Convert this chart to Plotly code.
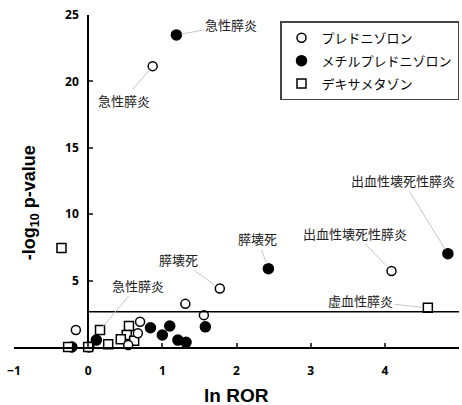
import plotly.graph_objects as go

# ---- data ----
pred_x = [0.87, 4.09, 1.775, 1.31, 1.56, -0.166, 0.70, 0.67, 0.54]
pred_y = [21.15, 5.72, 4.40, 3.25, 2.40, 1.28, 1.90, 1.03, 0.15]

mpred_x = [1.19, 4.85, 2.43, 1.58, 1.10, 0.84, 1.00, 1.21, 1.32, 0.11, 0.01, -0.22]
mpred_y = [23.5, 7.03, 5.90, 1.52, 1.58, 1.45, 0.90, 0.52, 0.35, 0.52, 0.0, 0.0]

dex_x = [-0.36, 4.58, 0.16, 0.55, 0.52, 0.44, 0.62, 0.27, 0.0, -0.27]
dex_y = [7.45, 2.95, 1.28, 1.58, 0.90, 0.58, 0.47, 0.20, 0.0, 0.0]

series_names = ["プレドニゾロン", "メチルプレドニゾロン", "デキサメタゾン"]
threshold = 2.65

x_ticks = [-1, 0, 1, 2, 3, 4, 5]
y_ticks = [5, 10, 15, 20, 25]

# labels: (series, point index, text, ax, ay)
labels = [
    ("m", 0, "急性膵炎", 55, -10),
    ("p", 0, "急性膵炎", -29, 34),
    ("m", 1, "出血性壊死性膵炎", -45, -73),
    ("m", 2, "膵壊死", -11, -30),
    ("p", 1, "出血性壊死性膵炎", -37, -38),
    ("p", 2, "膵壊死", -41, -29),
    ("d", 2, "急性膵炎", 38, -45),
    ("d", 1, "虚血性膵炎", -67, -7),
]

JP = "Noto Sans CJK JP"
NUM = "Open Sans"
TITLE = "Liberation Sans"

fig = go.Figure()
fig.add_trace(go.Scatter(
    x=mpred_x, y=mpred_y, mode="markers", name=series_names[1], legendrank=2, legendgroup="m",
    marker=dict(symbol="circle", size=10, color="black", line=dict(color="black", width=1.5)),
    cliponaxis=False))
fig.add_trace(go.Scatter(
    x=dex_x, y=dex_y, mode="markers", name=series_names[2], legendrank=3, legendgroup="d",
    marker=dict(symbol="square", size=9, color="white", line=dict(color="black", width=1.5)),
    cliponaxis=False))
fig.add_trace(go.Scatter(
    x=pred_x, y=pred_y, mode="markers", name=series_names[0], legendrank=1, legendgroup="p",
    marker=dict(symbol="circle", size=9, color="white", line=dict(color="black", width=1.5)),
    cliponaxis=False))

fig.add_shape(type="line", xref="x", yref="y", x0=0, x1=5, y0=threshold, y1=threshold,
              line=dict(color="black", width=1.5))

src = {"p": (pred_x, pred_y), "m": (mpred_x, mpred_y), "d": (dex_x, dex_y)}
for s, i, txt, ax, ay in labels:
    xs, ys = src[s]
    fig.add_annotation(x=xs[i], y=ys[i], text=txt, showarrow=True, arrowhead=0,
                       arrowwidth=1, arrowcolor="#c8c8c8", ax=ax, ay=ay, standoff=5,
                       font=dict(family=JP, size=13, color="#222"))

# axis titles
fig.add_annotation(xref="paper", yref="paper", x=0.5, y=-0.145, xanchor="center", yanchor="middle",
                   text="<b>ln ROR</b>",
                   showarrow=False, font=dict(family=TITLE, size=19, color="black"))
fig.add_annotation(xref="paper", yref="paper", x=0.036, y=0.433, xanchor="center", yanchor="middle",
                   textangle=-90, text="<b>-log<sub>10</sub> p-value</b>",
                   showarrow=False, font=dict(family=TITLE, size=18, color="black"))

fig.update_layout(
    width=462, height=405,
    margin=dict(l=14, r=3, t=15, b=58, autoexpand=False),
    plot_bgcolor="white", paper_bgcolor="white",
    showlegend=True,
    legend=dict(x=1.0, y=0.981, xanchor="right", yanchor="top",
                bordercolor="#444", borderwidth=1.5, bgcolor="white", tracegroupgap=3,
                font=dict(family=JP, size=13, color="black")),
    xaxis=dict(range=[-1, 5], tickvals=x_ticks, ticks="inside", ticklen=4, tickwidth=2,
               showline=True, linecolor="black", linewidth=2, showgrid=False, zeroline=False,
               tickfont=dict(family=NUM, size=12, color="black", weight="bold"),
               ticklabelstandoff=12, anchor="y", automargin=False),
    yaxis=dict(range=[0, 25], tickvals=y_ticks, ticks="inside", ticklen=4, tickwidth=2,
               showline=True, linecolor="black", linewidth=2, showgrid=False, zeroline=False,
               tickfont=dict(family=NUM, size=12, color="black", weight="bold"),
               anchor="free", position=1/6, ticklabelstandoff=6, automargin=False),
)

fig.write_html("out.html", config={"displayModeBar": False},
               post_script="document.body.style.margin='0';")
